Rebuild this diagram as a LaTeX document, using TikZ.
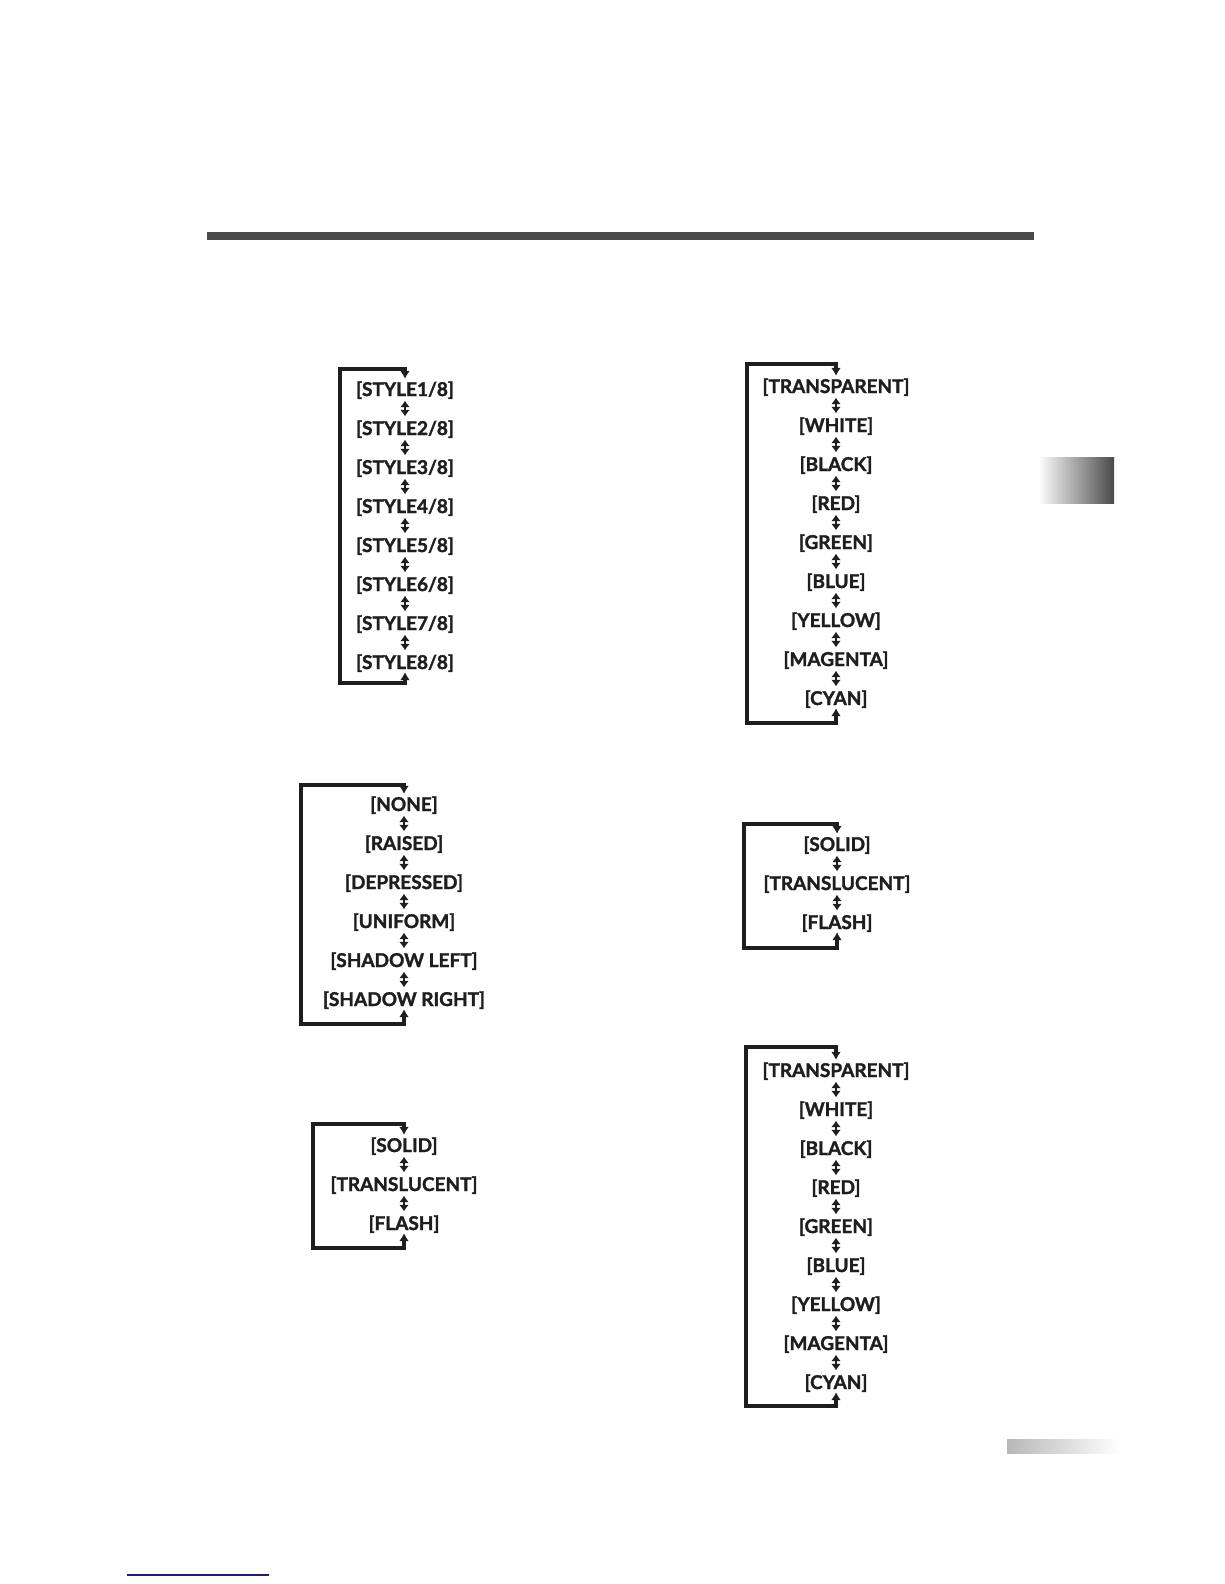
\documentclass[tikz,border=0pt]{standalone}
\usepackage{fontspec}
\setmainfont{Lato}[BoldFeatures={FakeBold=1.6}]
\usetikzlibrary{positioning,arrows.meta}
\definecolor{ink}{HTML}{1E1E1E}
\definecolor{band}{HTML}{4A4A4A}
\definecolor{link}{HTML}{1C1C7E}

\begin{document}
\begin{tikzpicture}[x=1pt,y=-1pt,font=\fontsize{19}{21}\selectfont\bfseries,
        lb/.style={text=ink,inner sep=1pt,text height=16pt,text depth=2pt},
        da/.style={{Latex[length=6.5pt,width=10pt]}-{Latex[length=6.5pt,width=10pt]},line width=2.2pt,ink,shorten >=1.5pt,shorten <=1.5pt},
        lp/.style={{Latex[length=8pt,width=10pt]}-{Latex[length=8pt,width=10pt]},line width=3.2pt,ink}]
  \useasboundingbox (0,0) rectangle (1224,1584);
  % page furniture
  \fill[band] (207,232) rectangle (1034,240);
  \shade[left color=white,right color=band] (1038,457) rectangle (1114,503);
  \shade[left color=black!28,right color=white] (1007,1439) rectangle (1120,1453);
  \draw[link,line width=1.2pt] (127,1575) -- (269,1575);

  % style loop
  \foreach \i in {1,...,8}
    \node[lb] (s\i) at (405,{389+39*(\i-1)}) {[STYLE\i/8]};
  \foreach \i [count=\j from 2] in {1,...,7}
    \draw[da] (s\i) -- (s\j);
  \coordinate (s-tl) at (340,369);
  \coordinate (s-bl) at (340,683);
  \draw[lp] (s8.south) |- (s-bl) -- (s-tl) -| (s1.north);

  % colour loop, top
  \foreach \t [count=\i] in {TRANSPARENT,WHITE,BLACK,RED,GREEN,BLUE,YELLOW,MAGENTA,CYAN}
    \node[lb] (c\i) at (836,{386+39*(\i-1)}) {[\t]};
  \foreach \i [count=\j from 2] in {1,...,8}
    \draw[da] (c\i) -- (c\j);
  \coordinate (c-tl) at (747,364);
  \coordinate (c-bl) at (747,723);
  \draw[lp] (c9.south) |- (c-bl) -- (c-tl) -| (c1.north);

  % edge loop
  \foreach \t [count=\i] in {NONE,RAISED,DEPRESSED,UNIFORM,SHADOW LEFT,SHADOW RIGHT}
    \node[lb] (e\i) at (404,{804+39*(\i-1)}) {[\t]};
  \foreach \i [count=\j from 2] in {1,...,5}
    \draw[da] (e\i) -- (e\j);
  \coordinate (e-tl) at (301,785);
  \coordinate (e-bl) at (301,1024);
  \draw[lp] (e6.south) |- (e-bl) -- (e-tl) -| (e1.north);

  % opacity loop, right
  \foreach \t [count=\i] in {SOLID,TRANSLUCENT,FLASH}
    \node[lb] (p\i) at (837,{844+39*(\i-1)}) {[\t]};
  \draw[da] (p1) -- (p2); \draw[da] (p2) -- (p3);
  \coordinate (p-tl) at (744,824);
  \coordinate (p-bl) at (744,948);
  \draw[lp] (p3.south) |- (p-bl) -- (p-tl) -| (p1.north);

  % opacity loop, left
  \foreach \t [count=\i] in {SOLID,TRANSLUCENT,FLASH}
    \node[lb] (o\i) at (404,{1145+39*(\i-1)}) {[\t]};
  \draw[da] (o1) -- (o2); \draw[da] (o2) -- (o3);
  \coordinate (o-tl) at (313,1124);
  \coordinate (o-bl) at (313,1248);
  \draw[lp] (o3.south) |- (o-bl) -- (o-tl) -| (o1.north);

  % colour loop, bottom
  \foreach \t [count=\i] in {TRANSPARENT,WHITE,BLACK,RED,GREEN,BLUE,YELLOW,MAGENTA,CYAN}
    \node[lb] (g\i) at (836,{1070+39*(\i-1)}) {[\t]};
  \foreach \i [count=\j from 2] in {1,...,8}
    \draw[da] (g\i) -- (g\j);
  \coordinate (g-tl) at (746,1047);
  \coordinate (g-bl) at (746,1406);
  \draw[lp] (g9.south) |- (g-bl) -- (g-tl) -| (g1.north);
\end{tikzpicture}
\end{document}
